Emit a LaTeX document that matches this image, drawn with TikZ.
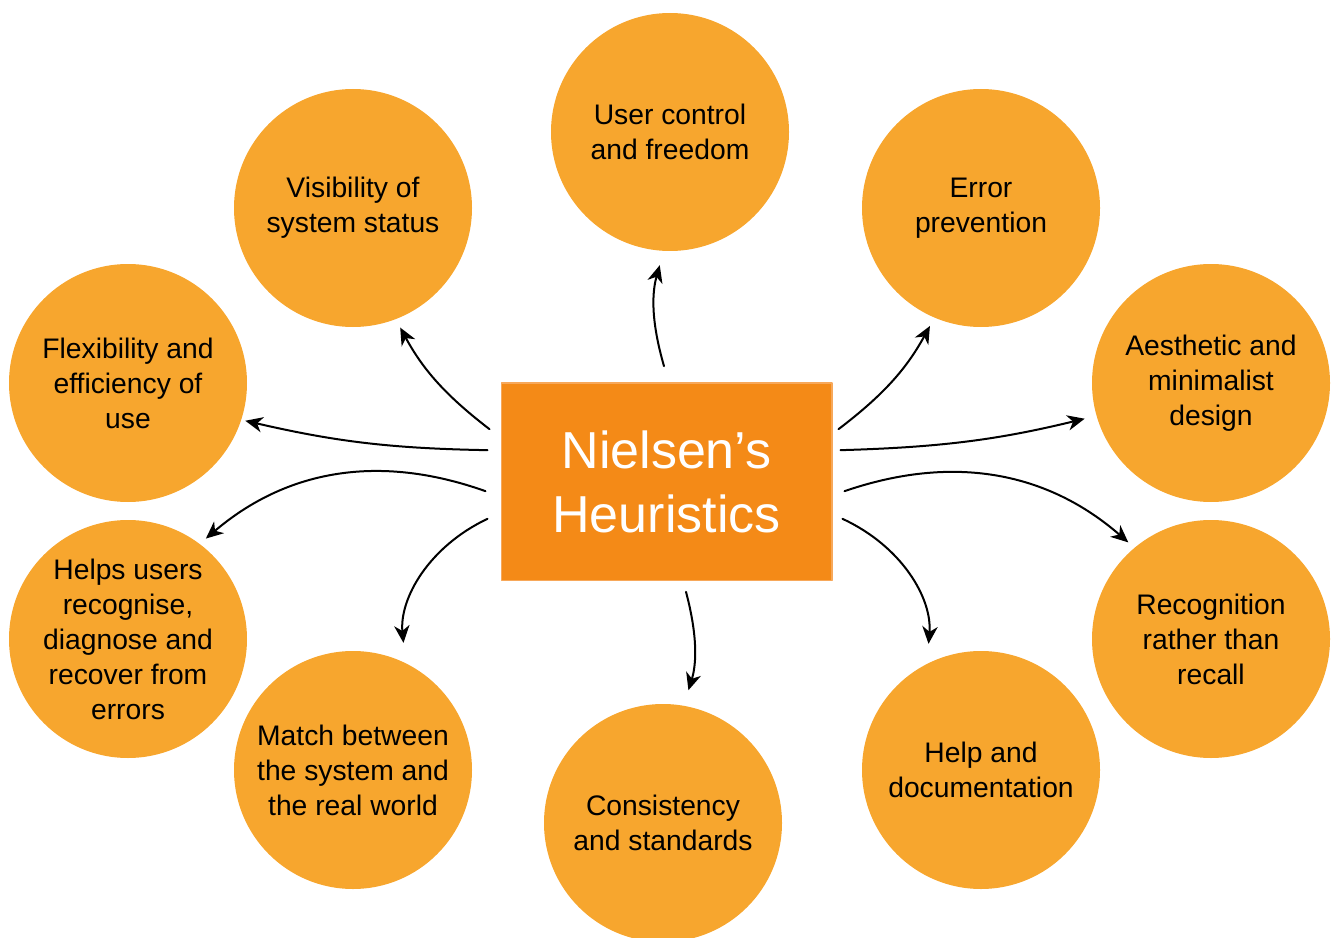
\documentclass[tikz,border=0pt]{standalone}
\usepackage{fontspec}
\setmainfont{Liberation Sans}
\usetikzlibrary{arrows.meta}
\definecolor{circorange}{HTML}{F7A62E}
\definecolor{boxorange}{HTML}{F48A17}
\definecolor{boxedge}{HTML}{F7A85A}
\begin{document}
\begin{tikzpicture}[x=0.75pt,y=-0.75pt,line join=round,line cap=round,
    heur/.style={circle,fill=circorange,minimum size=178.5pt,inner sep=0pt,align=center,font=\fontsize{21.2}{26.25}\selectfont},
    hbox/.style={rectangle,fill=boxorange,draw=boxedge,line width=1pt,minimum width=248pt,minimum height=148pt,align=center,text=white,font=\fontsize{39}{48}\selectfont},
    harrow/.style={-{Stealth[length=13pt,width=11.5pt,inset=4pt]},line width=1.5pt}]
  \useasboundingbox (0,0) rectangle (1332,938);
  % centre box
  \node[hbox] (nh) at (666.5,481.5) {Nielsen’s\\Heuristics};
  % the ten heuristics
  \node[heur] (uc) at (670,132) {User control\\and freedom};
  \node[heur] (vis) at (353,208) {Visibility of\\system status};
  \node[heur] (err) at (981,208) {Error\\prevention};
  \node[heur] (flex) at (128,383) {Flexibility and\\efficiency of\\use};
  \node[heur] (aes) at (1211,383) {Aesthetic and\\minimalist\\design};
  \node[heur] (hlp) at (128,639) {Helps users\\recognise,\\diagnose and\\recover from\\errors};
  \node[heur] (rec) at (1211,639) {Recognition\\rather than\\recall};
  \node[heur] (mat) at (353,770) {Match between\\the system and\\the real world};
  \node[heur] (doc) at (981,770) {Help and\\documentation};
  \node[heur] (con) at (663,823) {Consistency\\and standards};
  % arrows out of the box
  \draw[harrow,shorten >=11pt] ([shift={(-2.5,-16)}]nh.north) to[bend left=16] (uc.267);
  \draw[harrow,shorten >=7pt] ([shift={(-11,47)}]nh.north west) to[bend left=12] (vis.291);
  \draw[harrow,shorten >=7pt] ([shift={(6,47)}]nh.north east) to[bend right=12] (err.247);
  \draw[harrow,shorten >=3pt] ([shift={(-13,68)}]nh.north west) to[bend left=6] (flex.342);
  \draw[harrow,shorten >=9pt] ([shift={(8,68)}]nh.north east) to[bend right=6] (aes.196);
  \draw[harrow,shorten >=6pt] ([shift={(-15,109)}]nh.north west) to[bend right=30] (hlp.53);
  \draw[harrow,shorten >=6pt] ([shift={(12,109)}]nh.north east) to[bend left=30] (rec.130);
  \draw[harrow,shorten >=15pt] ([shift={(-13,-62)}]nh.south west) to[bend right=35] (mat.64);
  \draw[harrow,shorten >=15pt] ([shift={(10,-62)}]nh.south east) to[bend left=35] (doc.117.5);
  \draw[harrow,shorten >=12pt] ([shift={(19.5,11)}]nh.south) to[bend left=16] (con.80);
\end{tikzpicture}
\end{document}
